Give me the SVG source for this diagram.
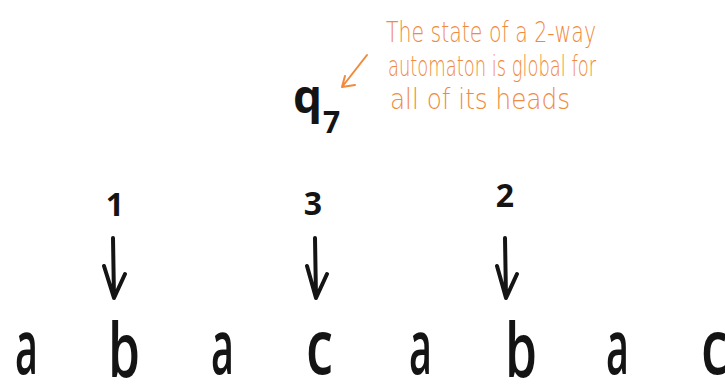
<svg xmlns="http://www.w3.org/2000/svg" width="725" height="386" viewBox="0 0 725 386">
<style>
.tape{font-family:"Open Sans","DejaVu Sans",sans-serif;font-weight:600;font-size:40px;fill:#141414}
.num{font-family:"Open Sans","DejaVu Sans",sans-serif;font-weight:700;font-size:32px;fill:#141414;text-anchor:middle}
.note{font-family:"DejaVu Sans","Liberation Sans",sans-serif;font-weight:200;font-size:29px;fill:#f08a3c}
.arr{fill:none;stroke:#141414;stroke-width:4;stroke-linecap:round;stroke-linejoin:round}
.oarr{fill:none;stroke:#f08a3c;stroke-width:2;stroke-linecap:round;stroke-linejoin:round}
</style>
<rect width="725" height="386" fill="#ffffff"/>
<g id="tape">
<text class="tape" transform="translate(15,374) scale(1,1.9)" textLength="23" lengthAdjust="spacingAndGlyphs">a</text>
<text class="tape" transform="translate(108,377) scale(1,1.9)" textLength="32" lengthAdjust="spacingAndGlyphs">b</text>
<text class="tape" transform="translate(211,374) scale(1,1.9)" textLength="23" lengthAdjust="spacingAndGlyphs">a</text>
<text class="tape" transform="translate(306,374) scale(1,1.9)" textLength="27" lengthAdjust="spacingAndGlyphs">c</text>
<text class="tape" transform="translate(409,374) scale(1,1.9)" textLength="23" lengthAdjust="spacingAndGlyphs">a</text>
<text class="tape" transform="translate(505,377) scale(1,1.9)" textLength="32" lengthAdjust="spacingAndGlyphs">b</text>
<text class="tape" transform="translate(606,374) scale(1,1.9)" textLength="23" lengthAdjust="spacingAndGlyphs">a</text>
<text class="tape" transform="translate(701,374) scale(1,1.9)" textLength="27" lengthAdjust="spacingAndGlyphs">c</text>
</g>
<g id="head1"><text class="num" x="115" y="216">1</text></g>
<g id="head3"><text class="num" x="313" y="215">3</text></g>
<g id="head2"><text class="num" x="505" y="207">2</text></g>
<g id="state">
<text x="293" y="113" style="font-family:'Open Sans','DejaVu Sans',sans-serif;font-weight:700;font-size:46px;fill:#141414">q</text>
<text x="323" y="133" style="font-family:'Open Sans','DejaVu Sans',sans-serif;font-weight:700;font-size:30px;fill:#141414">7</text>
</g>
<g id="note">
<text class="note" x="386" y="42" textLength="210" lengthAdjust="spacingAndGlyphs">The state of a 2-way</text>
<text class="note" x="388" y="76" textLength="208" lengthAdjust="spacingAndGlyphs">automaton is global for</text>
<text class="note" x="390" y="109" textLength="180" lengthAdjust="spacingAndGlyphs">all of its heads</text>
</g>
<g id="connectors">
<path class="arr" d="M113,238 L114,298 M104,266 L114,298 L125,274"/>
<path class="arr" d="M315,238 L316,298 M307,266 L316,298 L327,274"/>
<path class="arr" d="M505,238 L506,298 M497,266 L506,298 L517,274"/>
<path class="oarr" d="M367,55 L342,87 M345,76 L342,87 L355,85"/>
</g>
</svg>
